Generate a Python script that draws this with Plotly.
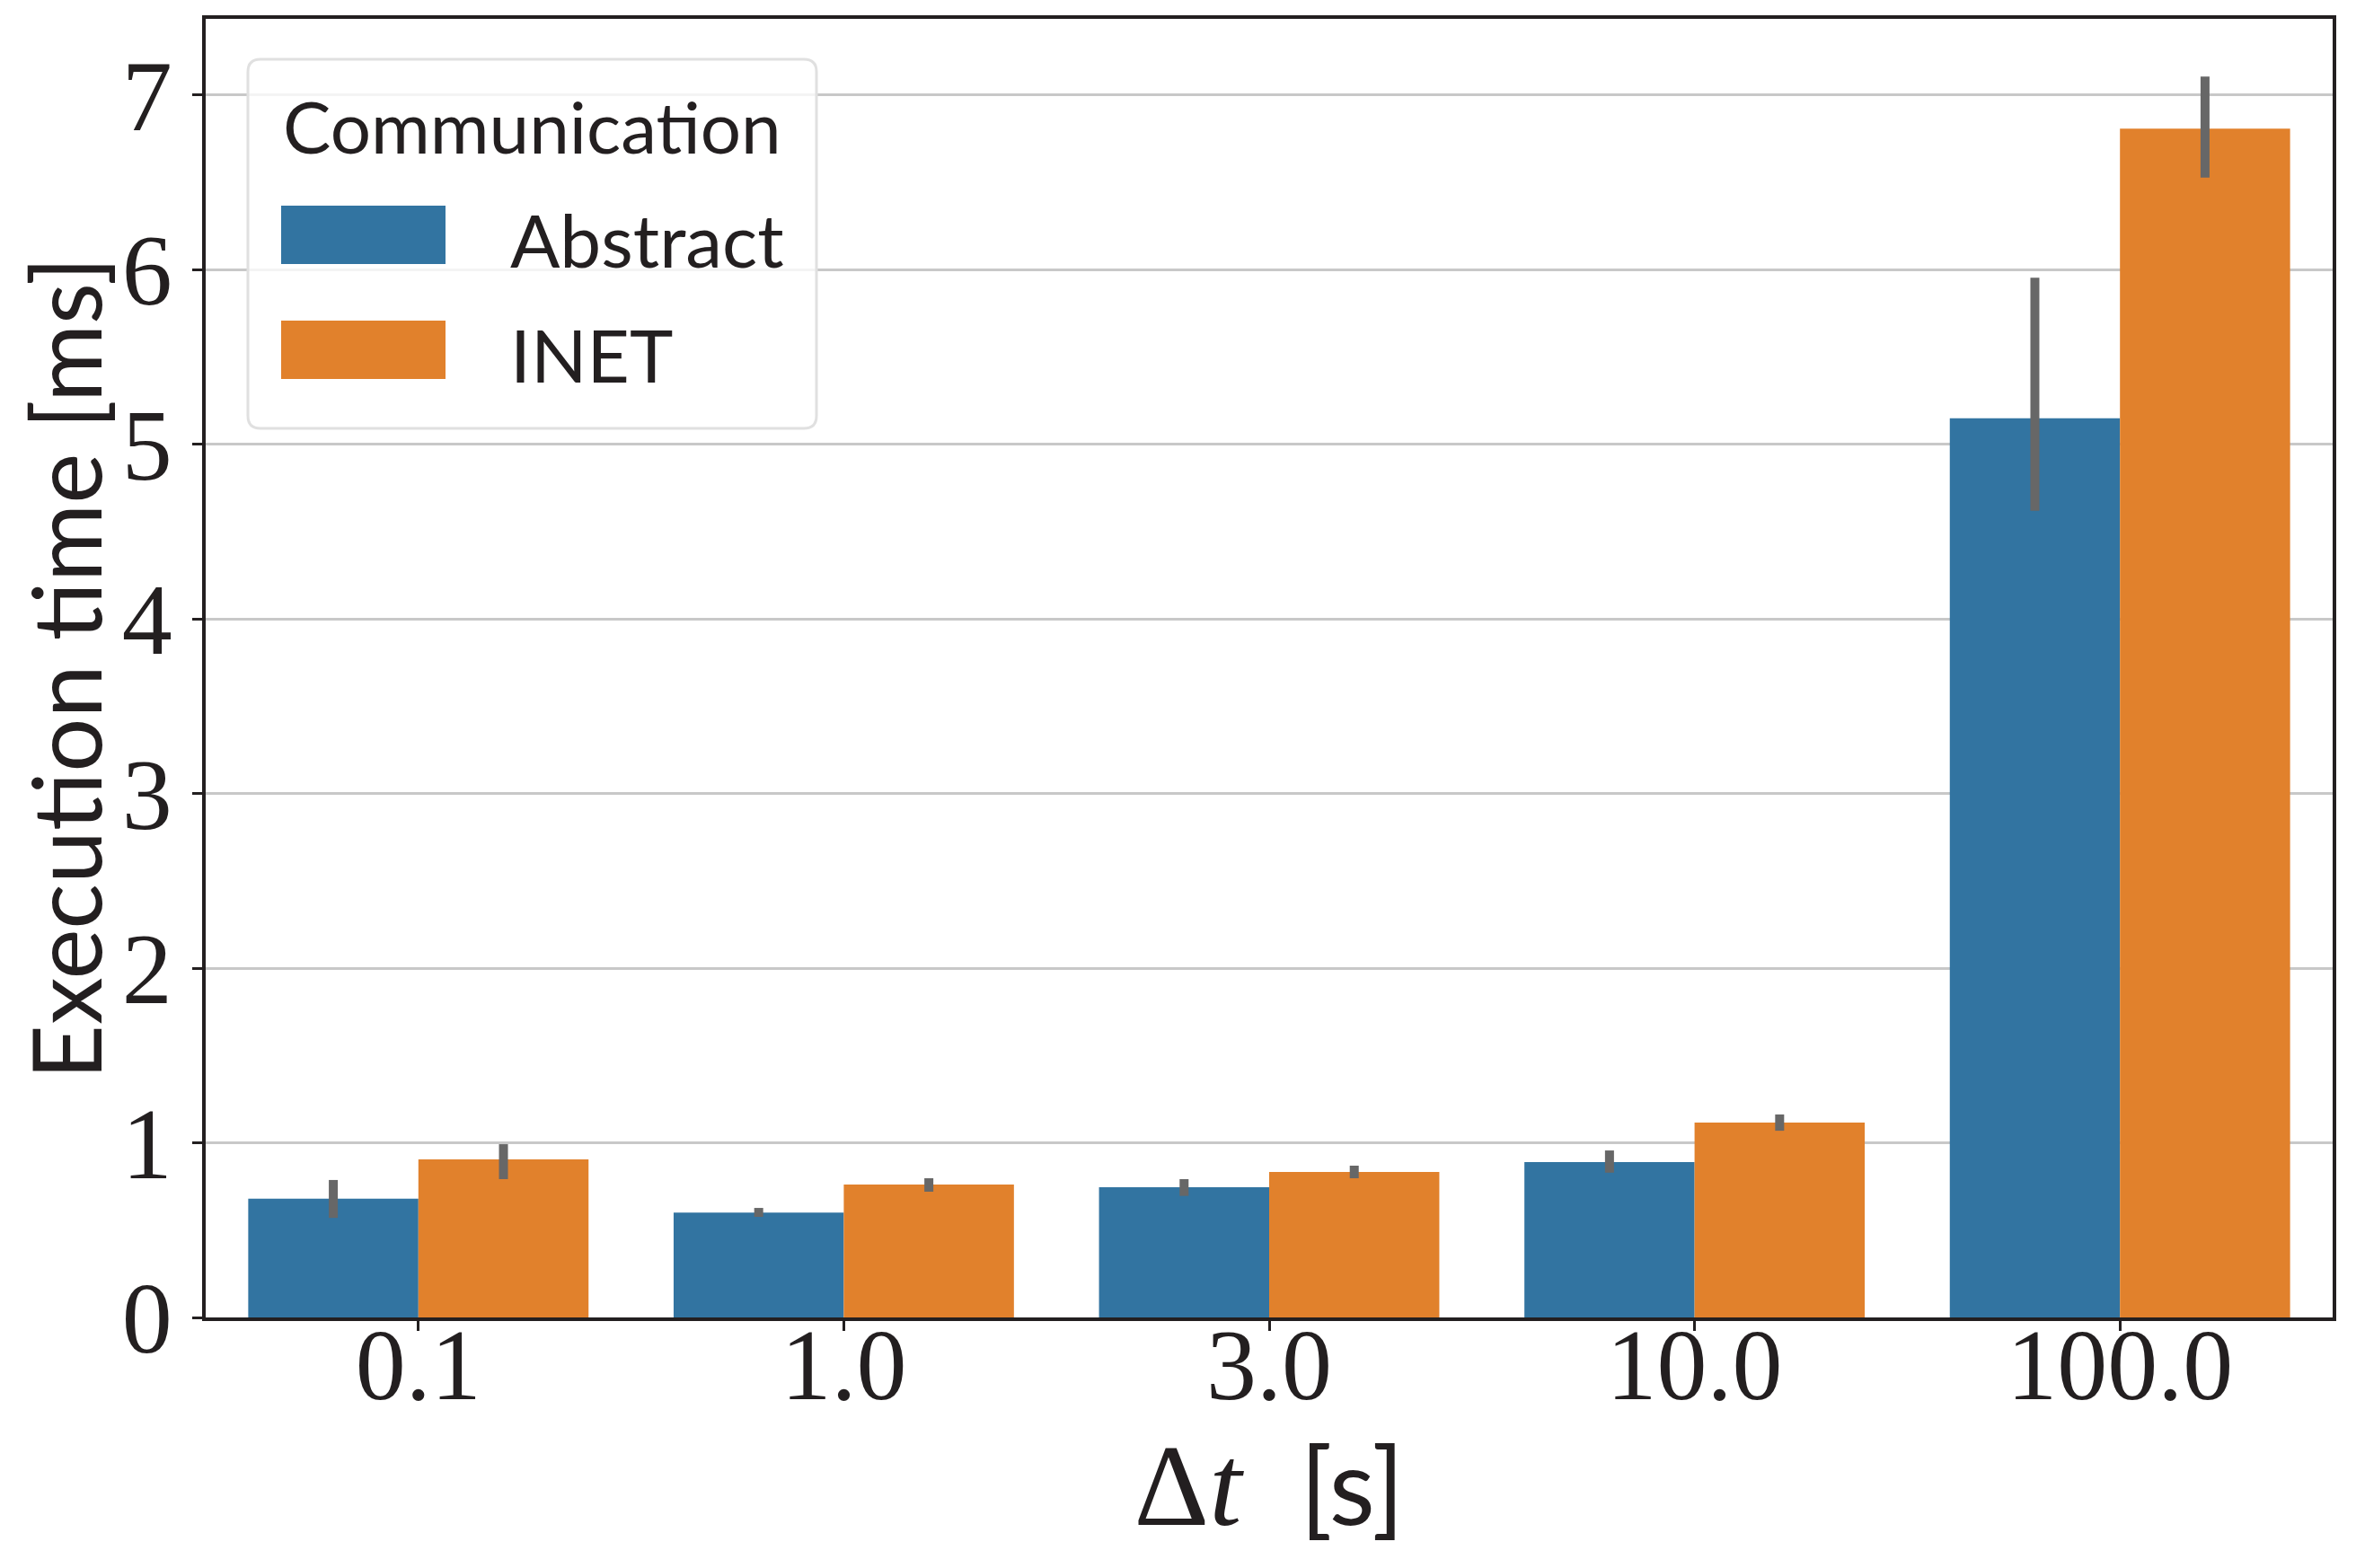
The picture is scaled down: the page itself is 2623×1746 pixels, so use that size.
import plotly.graph_objects as go

# ---- data ----
categories = ["0.1", "1.0", "3.0", "10.0", "100.0"]
series_names = ["Abstract", "INET"]

abstract_mean = [0.68, 0.60, 0.745, 0.89, 5.148]
abstract_ci_low = [0.57, 0.576, 0.696, 0.829, 4.618]
abstract_ci_high = [0.787, 0.627, 0.792, 0.956, 5.953]

inet_mean = [0.905, 0.761, 0.833, 1.116, 6.807]
inet_ci_low = [0.792, 0.720, 0.797, 1.069, 6.526]
inet_ci_high = [0.992, 0.797, 0.869, 1.162, 7.105]

y_ticks = [0, 1, 2, 3, 4, 5, 6, 7]

# ---- styling ----
BLUE = "#3274a1"
ORANGE = "#e1812c"
ERR = "#676767"
INK = "#231f20"
GRID = "#c8c8c8"
SERIF = "Liberation Serif"
SANS = "Lato"

OFF = 8  # default page body margin
W, H = 2623 - OFF, 1746 - OFF
L, R, T, B = 229 - OFF, 26, 21 - OFF, 279


def err(mean, lo, hi):
    return dict(type="data", symmetric=False,
                array=[h - m for m, h in zip(mean, hi)],
                arrayminus=[m - l for m, l in zip(mean, lo)],
                color=ERR, thickness=10, width=0)


fig = go.Figure()
fig.add_trace(go.Bar(x=categories, y=abstract_mean, name=series_names[0],
                     marker=dict(color=BLUE, line=dict(width=0)),
                     error_y=err(abstract_mean, abstract_ci_low, abstract_ci_high),
                     showlegend=False))
fig.add_trace(go.Bar(x=categories, y=inet_mean, name=series_names[1],
                     marker=dict(color=ORANGE, line=dict(width=0)),
                     error_y=err(inet_mean, inet_ci_low, inet_ci_high),
                     showlegend=False))

fig.update_layout(
    width=W, height=H,
    margin=dict(l=L, r=R, t=T, b=B, autoexpand=False),
    paper_bgcolor="white", plot_bgcolor="white",
    barmode="group", bargap=0.2, bargroupgap=0,
    font=dict(family=SERIF, color=INK),
)

fig.update_xaxes(
    type="category", range=[-0.5, len(categories) - 0.5],
    showline=True, linecolor=INK, linewidth=3.5, mirror=True,
    ticks="outside", ticklen=11, tickwidth=3, tickcolor=INK,
    tickfont=dict(family=SERIF, size=112, color=INK),
    ticklabelstandoff=-58,
    showgrid=False, zeroline=False, layer="above traces",
    title=dict(text='Δ<i>t</i>  <span style="font-family:Lato;font-size:118px">[s]</span>',
               font=dict(family=SERIF, size=130, color=INK), standoff=4),
    automargin=False,
)
fig.update_yaxes(
    range=[0, 7.435], tickvals=y_ticks, ticktext=[str(v) for v in y_ticks],
    showline=True, linecolor=INK, linewidth=3.5, mirror=True,
    ticks="outside", ticklen=11, tickwidth=3, tickcolor=INK,
    tickfont=dict(family=SERIF, size=112, color=INK),
    showgrid=True, gridcolor=GRID, gridwidth=3, zeroline=False,
    layer="above traces",
    title=dict(text="Execution time [ms]", font=dict(family=SANS, size=106, color=INK),
               standoff=16),
    automargin=False,
)

# ---- legend box (custom, matplotlib-style with rounded frame) ----
pw, ph = W - L - R, H - T - B


def px(x):
    return (x - OFF - L) / pw


def py(y):
    return (H - B - (y - OFF)) / ph


x0, x1, y0, y1 = px(276), px(909), py(477), py(66)
rx, ry = 14 / pw, 14 / ph
path = (f"M{x0+rx},{y0} L{x1-rx},{y0} Q{x1},{y0} {x1},{y0+ry} "
        f"L{x1},{y1-ry} Q{x1},{y1} {x1-rx},{y1} L{x0+rx},{y1} "
        f"Q{x0},{y1} {x0},{y1-ry} L{x0},{y0+ry} Q{x0},{y0} {x0+rx},{y0} Z")
fig.add_shape(type="path", path=path, xref="paper", yref="paper",
              fillcolor="rgba(255,255,255,0.8)", line=dict(color="#e0e0e0", width=3),
              layer="above")

swatches = [(BLUE, 229, 294), (ORANGE, 357, 422)]
for color, top, bot in swatches:
    fig.add_shape(type="rect", xref="paper", yref="paper",
                  x0=px(313), x1=px(496), y0=py(bot), y1=py(top),
                  fillcolor=color, line=dict(width=0), layer="above")

fig.add_annotation(text="Communication", xref="paper", yref="paper",
                   x=px(592), y=py(140), xanchor="center", yanchor="middle",
                   showarrow=False, font=dict(family=SANS, size=80, color=INK))
for name, yc in zip(series_names, [266, 394]):
    fig.add_annotation(text=name, xref="paper", yref="paper",
                       x=px(566), y=py(yc), xanchor="left", yanchor="middle",
                       showarrow=False, font=dict(family=SANS, size=82, color=INK))

fig.write_html("out.html")
